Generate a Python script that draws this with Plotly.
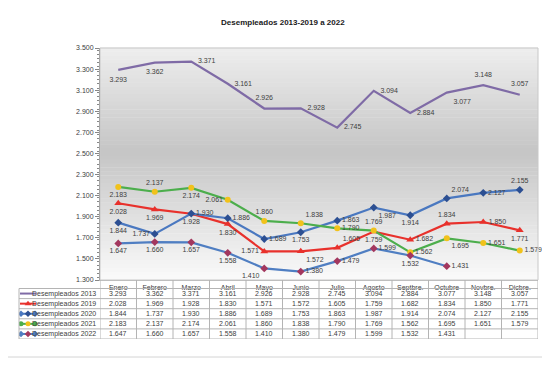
import plotly.graph_objects as go

# ---------------- data ----------------
months = ["Enero", "Febrero", "Marzo", "Abril", "Mayo", "Junio", "Julio",
          "Agosto", "Septbre.", "Octubre", "Novbre.", "Dicbre."]
d2013 = [3293, 3362, 3371, 3161, 2926, 2928, 2745, 3094, 2884, 3077, 3148, 3057]
d2019 = [2028, 1969, 1928, 1830, 1571, 1572, 1605, 1759, 1682, 1834, 1850, 1771]
d2020 = [1844, 1737, 1930, 1886, 1689, 1753, 1863, 1987, 1914, 2074, 2127, 2155]
d2021 = [2183, 2137, 2174, 2061, 1860, 1838, 1790, 1769, 1562, 1695, 1651, 1579]
d2022 = [1647, 1660, 1657, 1558, 1410, 1380, 1479, 1599, 1532, 1431]
series_names = ["Desempleados 2013", "Desempleados 2019", "Desempleados 2020",
                "Desempleados 2021", "Desempleados 2022"]
series_values = [d2013, d2019, d2020, d2021, d2022]
title_text = "Desempleados 2013-2019 a 2022"
y_min, y_max, y_step = 1300, 3500, 200

# ---------------- styles ----------------
FONT = "Liberation Sans, Arial, sans-serif"
TXT = "#404040"
GRID = "#b4b4b4"

line_colors = ["#7f6ba6", "#e8312c", "#4a78c0", "#4cae4c", "#4f7ec2"]
marker_styles = [
    dict(symbol="circle", size=9, color="rgba(0,0,0,0)"),
    dict(symbol="triangle-up", size=7, color="#e8312c"),
    dict(symbol="diamond", size=6, color="#2c4f92"),
    dict(symbol="circle", size=6, color="#f1c21b"),
    dict(symbol="diamond", size=6, color="#a3375e"),
]
label_pos = [
    ["bottom center", "bottom center", "middle right", "middle right", "top center", "middle right",
     "middle right", "middle right", "middle right", "bottom right", "top center", "top center"],
    ["bottom center", "bottom center", "bottom center", "bottom center", "middle left", "bottom right",
     "top right", "bottom center", "middle right", "top center", "middle right", "bottom center"],
    ["bottom center", "middle left", "middle right", "middle right", "middle right", "bottom center",
     "middle right", "bottom right", "bottom center", "top right", "middle right", "top center"],
    ["bottom center", "top center", "bottom center", "middle left", "top center", "top right",
     "middle right", "top center", "middle right", "bottom right", "middle right", "middle right"],
    ["bottom center", "bottom center", "bottom center", "bottom center", "bottom left", "middle right",
     "middle right", "middle right", "bottom center", "middle right"],
]


def fmt(v):
    return f"{v:,}".replace(",", ".")


# pixel layout helpers. Targets are screen pixels; the page body adds an 8px offset.
OFF = 8
W, H = 550, 369
T_PAPER_L, T_PAPER_R = 19, 538      # screen px of table left / plot right
T_PAPER_T, T_PAPER_B = 48, 339      # screen px of plot top / table bottom
T_PLOT_L, T_PLOT_B = 100, 280       # screen px of plot left / plot bottom

ML = T_PAPER_L - OFF
MR = W - (T_PAPER_R - OFF)
MT = T_PAPER_T - OFF
MB = H - (T_PAPER_B - OFF)


def px2paper_x(px):
    return (px - T_PAPER_L) / (T_PAPER_R - T_PAPER_L)


def px2paper_y(py):
    return (T_PAPER_B - py) / (T_PAPER_B - T_PAPER_T)


x_dom0 = px2paper_x(T_PLOT_L)
y_dom0 = px2paper_y(T_PLOT_B)

fig = go.Figure()

# ---------------- main series ----------------
for i, (nm, vals) in enumerate(zip(series_names, series_values)):
    ms = marker_styles[i]
    fig.add_trace(go.Scatter(
        x=months[:len(vals)], y=vals, name=nm,
        mode="lines+markers+text",
        line=dict(color=line_colors[i], width=2.2),
        marker=ms,
        text=[fmt(v) for v in vals],
        textposition=label_pos[i],
        textfont=dict(family=FONT, size=7, color=TXT),
        cliponaxis=False, showlegend=False, hoverinfo="skip",
    ))

# ---------------- legend keys in table (x2/y2 in screen-pixel units) ----------------
row_h = 10.1
row_top0 = 288.5
row_centers = [row_top0 + row_h * (k + 0.5) for k in range(len(series_names))]
key_x = [21, 28, 35]
for i, yc in enumerate(row_centers):
    fig.add_trace(go.Scatter(x=[20, 36], y=[yc, yc], xaxis="x2", yaxis="y2",
                             mode="lines", line=dict(color=line_colors[i], width=2),
                             showlegend=False, hoverinfo="skip"))
    ms = marker_styles[i]
    if i == 0:
        continue
    if i == 1:
        fig.add_trace(go.Scatter(x=[key_x[1]], y=[yc], xaxis="x2", yaxis="y2", mode="markers",
                                 marker=dict(symbol=ms["symbol"], size=6, color=ms["color"]),
                                 showlegend=False, hoverinfo="skip"))
    else:
        fig.add_trace(go.Scatter(x=[key_x[0], key_x[2]], y=[yc, yc], xaxis="x2", yaxis="y2",
                                 mode="markers",
                                 marker=dict(symbol=ms["symbol"], size=5, color=line_colors[i]),
                                 showlegend=False, hoverinfo="skip"))
        fig.add_trace(go.Scatter(x=[key_x[1]], y=[yc], xaxis="x2", yaxis="y2", mode="markers",
                                 marker=dict(symbol=ms["symbol"], size=5, color=ms["color"]),
                                 showlegend=False, hoverinfo="skip"))

shapes = []
# gradient plot background
n_bands = 60
for b in range(n_bands):
    t = (b + 0.5) / n_bands
    if t < 0.45:
        g = 238 - (238 - 197) * (t / 0.45)
    else:
        g = 197 + (250 - 197) * ((t - 0.45) / 0.55)
    g = int(round(g))
    shapes.append(dict(type="rect", xref="x domain", yref="y domain",
                       x0=0, x1=1, y0=1 - (b + 1) / n_bands, y1=1 - b / n_bands + 0.002,
                       fillcolor=f"rgb({g},{g},{g})", line=dict(width=0), layer="below"))
# plot area border
shapes.append(dict(type="rect", xref="x domain", yref="y domain", x0=0, x1=1, y0=0, y1=1,
                   line=dict(color="#c8c8c8", width=1), layer="above"))
# outer chart border
shapes.append(dict(type="rect", xref="paper", yref="paper",
                   x0=px2paper_x(4), x1=px2paper_x(545), y0=px2paper_y(357), y1=px2paper_y(7),
                   line=dict(color="#d4d4d4", width=1), layer="below"))
# table horizontal lines
for k in range(len(series_names) + 1):
    yy = row_top0 + row_h * k
    shapes.append(dict(type="line", xref="paper", yref="y2", x0=0, x1=1, y0=yy, y1=yy,
                       line=dict(color=GRID, width=1)))
# table vertical lines
for c in range(len(months) + 1):
    shapes.append(dict(type="line", xref="x", yref="y2", x0=c - 0.5, x1=c - 0.5,
                       y0=T_PLOT_B, y1=row_top0 + row_h * len(series_names),
                       line=dict(color=GRID, width=1)))
shapes.append(dict(type="line", xref="paper", yref="y2", x0=0, x1=0,
                   y0=row_top0, y1=row_top0 + row_h * len(series_names),
                   line=dict(color=GRID, width=1)))

annotations = []
# title
annotations.append(dict(xref="paper", yref="paper", x=px2paper_x(283), y=px2paper_y(22),
                        text=f"<b>{title_text}</b>", showarrow=False,
                        font=dict(family=FONT, size=8, color="#1a1a1a"),
                        xanchor="center", yanchor="middle"))
# table texts
for i, (nm, vals) in enumerate(zip(series_names, series_values)):
    yc = row_centers[i]
    annotations.append(dict(xref="x2", yref="y2", x=98, y=yc, text=nm, showarrow=False,
                            xanchor="right", yanchor="middle",
                            font=dict(family=FONT, size=7, color=TXT)))
    for c, v in enumerate(vals):
        annotations.append(dict(xref="x", yref="y2", x=c, y=yc, text=fmt(v), showarrow=False,
                                xanchor="center", yanchor="middle",
                                font=dict(family=FONT, size=7, color=TXT)))

fig.update_layout(
    width=W, height=H,
    margin=dict(l=ML, r=MR, t=MT, b=MB, autoexpand=False),
    paper_bgcolor="white", plot_bgcolor="white",
    separators=",.",
    font=dict(family=FONT, size=7, color=TXT),
    shapes=shapes, annotations=annotations,
    xaxis=dict(domain=[x_dom0, 1], type="category", categoryarray=months,
               range=[-0.5, len(months) - 0.5], showgrid=False, zeroline=False,
               showline=True, linecolor=GRID, ticks="", ticklabelstandoff=1,
               tickfont=dict(family=FONT, size=7, color=TXT), anchor="y", fixedrange=True),
    yaxis=dict(domain=[y_dom0, 1], range=[y_min, y_max], dtick=y_step, tick0=y_min,
               tickformat=",d", showgrid=False, zeroline=False, showline=True,
               linecolor="#868686", ticks="outside", ticklen=4, tickcolor="#868686",
               minor=dict(dtick=40, ticks="outside", ticklen=2, tickcolor="#868686"),
               tickfont=dict(family=FONT, size=7, color=TXT), anchor="x", fixedrange=True),
    xaxis2=dict(domain=[0, x_dom0], range=[T_PAPER_L, T_PLOT_L], visible=False, anchor="y2",
                fixedrange=True),
    yaxis2=dict(domain=[0, y_dom0], range=[T_PAPER_B, T_PLOT_B], visible=False, anchor="x2",
                fixedrange=True),
)

fig.write_html("out.html")
